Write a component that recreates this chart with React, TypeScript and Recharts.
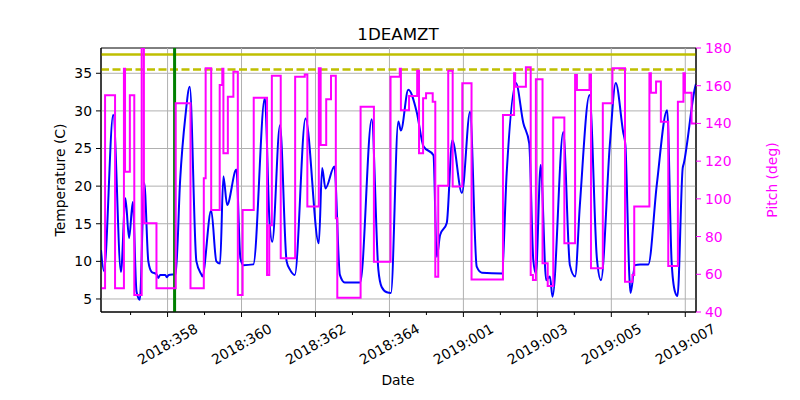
import React from "react";
import {
  ComposedChart,
  Line,
  ReferenceArea,
  ReferenceLine,
  XAxis,
  YAxis,
} from "recharts";

// day of year, 2019 days continue after 365 (2019:001 = 366)
const tempDays = [
  356.2, 356.28, 356.53, 356.74, 356.86, 356.96, 357.06, 357.16, 357.25, 357.37,
  357.48, 357.57, 357.7, 357.75, 357.8, 357.94, 357.98, 358.03, 358.22, 358.34,
  358.48, 358.6, 358.78, 358.92, 358.94, 359.18, 359.32, 359.42, 359.51, 359.61,
  359.86, 359.97, 360.05, 360.32, 360.63, 360.76, 360.83, 361.04, 361.22, 361.31,
  361.44, 361.73, 362.09, 362.18, 362.27, 362.51, 362.66, 362.79, 363.21, 363.52,
  363.7, 363.79, 363.93, 364.04, 364.24, 364.31, 364.51, 364.74, 364.92, 365.19,
  365.28, 365.37, 365.55, 365.7, 365.96, 366.18, 366.36, 366.5, 367.04, 367.17,
  367.42, 367.62, 367.78, 367.89, 367.96, 368.09, 368.24, 368.34, 368.41, 368.7,
  368.88, 369.02, 369.15, 369.41, 369.61, 369.72, 369.96, 370.12, 370.32, 370.38,
  370.49, 370.52, 370.64, 370.78, 371.0, 371.23, 371.51, 371.63, 371.72, 371.79,
  371.93, 371.96, 372.26, 372.29,
];
const tempValues = [
  11.5, 8.7, 29.5, 8.6, 18.4, 13.1, 17.9, 6.0, 4.9, 20.4,
  10.0, 8.6, 8.3, 7.8, 8.2, 8.2, 7.9, 8.2, 8.3, 20.8,
  29.2, 33.2, 10.0, 8.2, 8.0, 16.8, 10.0, 9.7, 21.3, 17.5,
  22.2, 10.4, 9.5, 9.6, 31.7, 15.0, 12.6, 28.1, 10.0, 8.9,
  8.2, 29.0, 12.4, 22.4, 19.7, 22.6, 8.2, 7.2, 7.2, 28.9,
  8.9, 6.6, 5.9, 5.8, 28.6, 27.4, 32.8, 29.8, 25.3, 24.1,
  10.6, 13.5, 15.1, 26.1, 19.1, 29.9, 9.3, 8.5, 8.4, 21.7,
  33.7, 28.4, 25.7, 10.2, 8.4, 22.8, 7.5, 8.0, 5.3, 27.2,
  9.5, 8.0, 17.5, 32.1, 10.4, 7.5, 25.5, 33.7, 27.2, 25.5,
  7.8, 5.8, 9.5, 9.6, 9.6, 20.2, 30.1, 10.0, 6.0, 5.4,
  22.4, 23.0, 33.0, 33.6,
];

const pitchDays = [
  356.2, 356.31, 356.58, 356.82, 356.85, 356.98, 357.1, 357.3, 357.36, 357.7,
  358.22, 358.62, 358.98, 359.03, 359.18, 359.41, 359.48, 359.51, 359.63, 359.78,
  359.9, 360.03, 360.33, 360.69, 360.75, 360.82, 361.06, 361.45, 361.71, 361.78,
  362.09, 362.14, 362.29, 362.42, 362.55, 362.59, 363.22, 363.58, 364.03, 364.28,
  364.31, 364.53, 364.75, 364.8, 364.91, 364.99, 365.17, 365.24, 365.32, 365.59,
  365.71, 365.97, 366.22, 367.07, 367.37, 367.4, 367.69, 367.82, 367.88, 367.96,
  368.14, 368.28, 368.43, 368.73, 369.02, 369.07, 369.41, 369.45, 369.77, 370.03,
  370.37, 370.57, 370.62, 371.03, 371.07, 371.21, 371.34, 371.54, 371.8, 371.95,
  371.99, 372.17, 372.29,
];
const pitchValues = [
  52.6, 155, 52.6, 169, 114.4, 155, 49, 180, 87, 52.6,
  150.7, 52.6, 110.9, 169.2, 94.1, 160.4, 169, 124.2, 154.2, 167.4,
  49, 94.1, 153.6, 59.6, 86, 165.3, 68.5, 164.8, 166, 95.9,
  169.2, 128.6, 152.8, 165.3, 89.7, 47.5, 148.9, 66.7, 164.8, 169,
  147, 154.5, 168, 124.2, 153.3, 156, 151.5, 58.7, 107, 168,
  106.5, 161.3, 57.3, 144.5, 166.6, 159.5, 169.8, 59.6, 57, 163.4,
  65.8, 53.8, 143.2, 76.4, 165.7, 157.7, 166, 63.2, 150.7, 169.2,
  56.1, 59.6, 95.9, 166.6, 156.3, 162.2, 140.9, 64.4, 151.5, 166.6,
  156.3, 140, 140,
];

const majorDays = [358, 360, 362, 364, 366, 368, 370, 372];
const majorLabels = [
  "2018:358", "2018:360", "2018:362", "2018:364",
  "2019:001", "2019:003", "2019:005", "2019:007",
];
const minorDays = [357, 359, 361, 363, 365, 367, 369, 371];
const tempTicks = [5, 10, 15, 20, 25, 30, 35];
const pitchTicks = [40, 60, 80, 100, 120, 140, 160, 180];

const planningLimit = 37.5;
const cautionLimit = 35.5;
const markerDay = 358.19;

const X_MIN = 356.2;
const X_MAX = 372.29;
const T_MIN = 3.27;
const T_MAX = 38.36;

const tempData = tempDays.map((d, i) => ({ d, temp: tempValues[i] }));
const pitchData = pitchDays.map((d, i) => ({ d, pitch: pitchValues[i] }));
const allDayTicks = [...minorDays, ...majorDays].sort((a, b) => a - b);

const FONT = "DejaVu Sans, sans-serif";
const MAGENTA = "#ff00ff";

function DateTick(props: any) {
  const { x, y, payload } = props;
  const idx = majorDays.indexOf(payload.value);
  const major = idx >= 0;
  const ly = y + 32;
  return (
    <g>
      <line x1={x} y1={y} x2={x} y2={y + (major ? 5 : 3)} stroke="#000" />
      {major && (
        <text
          x={x}
          y={ly}
          textAnchor="middle"
          dominantBaseline="central"
          fontSize={13.9}
          fill="#000"
          transform={`rotate(-30, ${x}, ${ly})`}
        >
          {majorLabels[idx]}
        </text>
      )}
    </g>
  );
}

const label = (extra: React.CSSProperties): React.CSSProperties => ({
  position: "absolute",
  transform: "translate(-50%, -50%)",
  whiteSpace: "nowrap",
  fontSize: 13.9,
  ...extra,
});

export default function App() {
  return (
    <div
      style={{
        position: "absolute",
        left: 0,
        top: 0,
        width: 800,
        height: 400,
        background: "#fff",
        fontFamily: FONT,
      }}
    >
      <ComposedChart
        width={800}
        height={400}
        margin={{ top: 48, right: 44, bottom: 28, left: 41 }}
      >
        <XAxis
          dataKey="d"
          type="number"
          domain={[X_MIN, X_MAX]}
          allowDataOverflow
          ticks={allDayTicks}
          interval={0}
          tick={<DateTick />}
          tickLine={false}
          tickSize={0}
          tickMargin={0}
          height={60}
          axisLine={{ stroke: "#000" }}
        />
        <YAxis
          yAxisId="temp"
          type="number"
          domain={[T_MIN, T_MAX]}
          allowDataOverflow
          ticks={tempTicks}
          interval={0}
          width={60}
          tickSize={5}
          tickMargin={4}
          tick={{ fontSize: 13.9, fill: "#000" }}
          tickLine={{ stroke: "#000" }}
          axisLine={{ stroke: "#000" }}
        />
        <YAxis
          yAxisId="pitch"
          orientation="right"
          type="number"
          domain={[40, 180]}
          allowDataOverflow
          ticks={pitchTicks}
          interval={0}
          width={60}
          tickSize={5}
          tickMargin={4}
          tick={{ fontSize: 13.9, fill: MAGENTA }}
          tickLine={{ stroke: MAGENTA }}
          axisLine={{ stroke: "#000" }}
        />
        {tempTicks.map((t) => (
          <ReferenceLine key={`h${t}`} yAxisId="temp" y={t} stroke="#b0b0b0" strokeWidth={1} />
        ))}
        {majorDays.map((d) => (
          <ReferenceLine key={`v${d}`} yAxisId="temp" x={d} stroke="#b0b0b0" strokeWidth={1} />
        ))}
        <ReferenceLine yAxisId="temp" y={planningLimit} stroke="#bfbf00" strokeWidth={2.5} />
        <ReferenceLine
          yAxisId="temp"
          y={cautionLimit}
          stroke="#bfbf00"
          strokeWidth={2.5}
          strokeDasharray="8 3.5"
        />
        <Line
          yAxisId="temp"
          data={tempData}
          dataKey="temp"
          type="monotone"
          stroke="#0000ff"
          strokeWidth={2}
          dot={false}
          isAnimationActive={false}
        />
        <ReferenceLine yAxisId="temp" x={markerDay} stroke="#008000" strokeWidth={3} />
        <Line
          yAxisId="pitch"
          data={pitchData}
          dataKey="pitch"
          type="stepAfter"
          stroke={MAGENTA}
          strokeWidth={2}
          dot={false}
          isAnimationActive={false}
        />
        <ReferenceArea
          yAxisId="temp"
          x1={X_MIN}
          x2={X_MAX}
          y1={T_MIN}
          y2={T_MAX}
          fill="none"
          stroke="#000"
          strokeWidth={1}
        />
      </ComposedChart>
      <div style={label({ left: 398, top: 34, fontSize: 16.7 })}>1DEAMZT</div>
      <div style={label({ left: 398, top: 380 })}>Date</div>
      <div style={label({ left: 60, top: 180, transform: "translate(-50%, -50%) rotate(-90deg)" })}>
        Temperature (C)
      </div>
      <div
        style={label({
          left: 772,
          top: 180,
          color: MAGENTA,
          transform: "translate(-50%, -50%) rotate(-90deg)",
        })}
      >
        Pitch (deg)
      </div>
    </div>
  );
}
